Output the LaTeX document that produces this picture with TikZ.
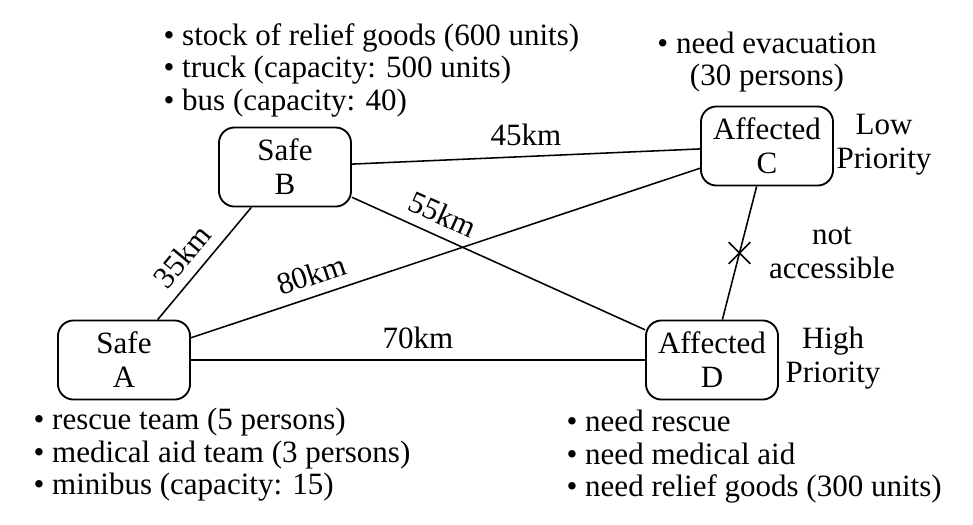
\documentclass[tikz,border=0pt]{standalone}
\usepackage{fontspec}
\setmainfont{Liberation Serif}
\usetikzlibrary{shapes.misc}
\tikzset{
  place/.style={draw, line width=0.6pt, rounded corners=5pt, minimum width=42.6pt, minimum height=25.5pt, align=center, inner sep=2pt, font=\fontsize{10}{11}\selectfont},
  road/.style={line width=0.5pt},
  lbl/.style={font=\fontsize{10}{11}\selectfont, inner sep=3.3pt},
  info/.style={font=\fontsize{10}{10.5}\selectfont, inner sep=0pt},
  blocked/.style={draw, cross out, line width=0.5pt, minimum size=6.5pt, inner sep=0pt}
}
\begin{document}
\begin{tikzpicture}[x=0.011337cm, y=-0.011337cm]
\useasboundingbox (0,0) rectangle (973,524);
\node[place] (A) at (124,360) {Safe\\A};
\node[place] (B) at (285,167) {Safe\\B};
\node[place] (C) at (767,146) {Affected\\C};
\node[place] (D) at (712,360) {Affected\\D};

\draw[road] (A) -- node[lbl, pos=0.44, above, sloped] {35km} (B);
\draw[road] (A) -- node[lbl, pos=0.25, above, sloped] {80km} (C);
\draw[road] (A) -- node[lbl, midway, above] {70km} (D);
\draw[road] (B) -- node[lbl, midway, above] {45km} (C);
\draw[road] (B) -- node[lbl, pos=0.28, above, sloped] {55km} (D);
\draw[road] (C) -- node[blocked, midway] (X) {} (D);

\node[lbl, align=center] (low) at (884,145) {Low\\Priority};
\node[lbl, align=center] (high) at (833,358) {High\\Priority};
\node[lbl, align=center] (na) at (832,253) {not\\accessible};

\node[info, align=left, anchor=west] (infoB) at (163,70) {\textbullet{} stock of relief goods (600 units)\\\textbullet{} truck (capacity: 500 units)\\\textbullet{} bus (capacity: 40)};
\node[info, align=center] (infoC) at (767,62) {\textbullet{} need evacuation\\(30 persons)};
\node[info, align=left, anchor=west] (infoA) at (33,455) {\textbullet{} rescue team (5 persons)\\\textbullet{} medical aid team (3 persons)\\\textbullet{} minibus (capacity: 15)};
\node[info, align=left, anchor=west] (infoD) at (566,457) {\textbullet{} need rescue\\\textbullet{} need medical aid\\\textbullet{} need relief goods (300 units)};
\end{tikzpicture}
\end{document}
